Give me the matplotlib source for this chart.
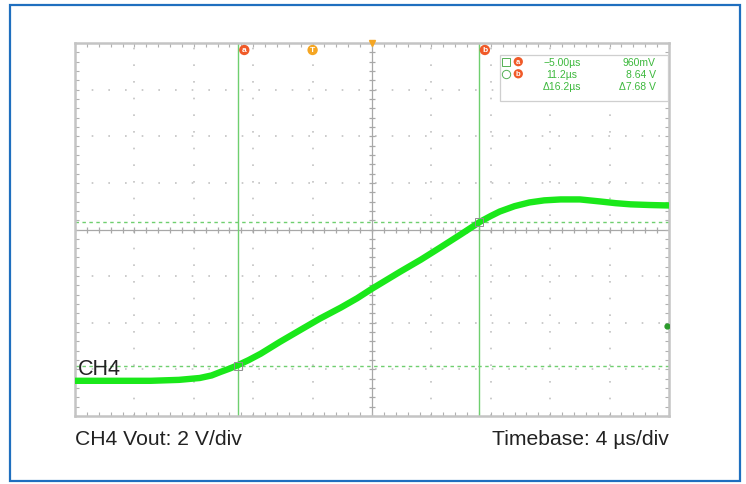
import numpy as np
import matplotlib.pyplot as plt
from matplotlib.patches import Rectangle

plt.rcParams['font.family'] = ['Liberation Sans', 'DejaVu Sans']

# --- dados lidos da tela do osciloscopio ---
# tempo em us, tensao em V (2 V/div, 4 us/div)
t_us = [-16.0, -13.0, -10.9, -9.0, -7.6, -6.8, -6.2, -5.6, -5.0, -4.3, -3.5,
        -2.2, -0.8, 0.5, 1.9, 3.0, 4.0, 5.9, 7.3, 8.6, 10.0, 11.3, 12.0,
        12.6, 13.6, 14.6, 15.6, 16.7, 18.0, 19.4, 20.4, 21.4, 22.7, 24.0]
v_out = [-0.49, -0.49, -0.49, -0.45, -0.37, -0.26, -0.11, 0.03, 0.19, 0.40,
         0.67, 1.18, 1.70, 2.18, 2.65, 3.05, 3.46, 4.19, 4.71, 5.23, 5.80,
         6.34, 6.58, 6.77, 7.00, 7.16, 7.25, 7.29, 7.29, 7.20, 7.13, 7.08,
         7.05, 7.03]

cursor_t = [-5.0, 11.2]          # cursores a e b
cursor_v = [0.15, 6.34]          # niveis mostrados na tela
cursor_names = ['a', 'b']
readout = [['\u22125.00\u00b5s', '960mV'],
           ['11.2\u00b5s', '8.64 V'],
           ['\u039416.2\u00b5s', '\u03947.68 V']]

t_div, v_div = 4, 2
t_min, t_max = -16, 24
v_min, v_max = -2, 14
t_center, v_center = 4, 6
trig_level = 1.87

verde = '#1ae81a'
cinza = '#c2c2c2'

fig = plt.figure(figsize=(7.46, 4.85), dpi=100)

# moldura azul
fig.patches.append(Rectangle((10 / 746, 3 / 485), 730 / 746, 476 / 485,
                             transform=fig.transFigure, fill=False,
                             edgecolor='#1f6fbf', linewidth=1.6))

ax = fig.add_axes([75 / 746, 68 / 485, 594 / 746, 373 / 485])
ax.set_xlim(t_min, t_max)
ax.set_ylim(v_min, v_max)

# grade pontilhada
for t in np.arange(t_min + t_div, t_max, t_div):
    if t != t_center:
        ax.axvline(t, color=cinza, lw=1.2, ls=(0, (1, 9)), zorder=1)
for v in np.arange(v_min + v_div, v_max, v_div):
    if v != v_center:
        ax.axhline(v, color=cinza, lw=1.2, ls=(0, (1, 9)), zorder=1)

# eixos centrais com marcas
ax.axvline(t_center, color='#a8a8a8', lw=0.9, zorder=1)
ax.axhline(v_center, color='#a8a8a8', lw=0.9, zorder=1)
tt = np.arange(t_min, t_max + 0.01, t_div / 5)
vv = np.arange(v_min, v_max + 0.01, v_div / 5)
ax.plot(tt, np.full_like(tt, v_center), '|', color='#a8a8a8', ms=5, mew=0.9, zorder=1)
ax.plot(np.full_like(vv, t_center), vv, '_', color='#a8a8a8', ms=5, mew=0.9, zorder=1)

# bordas com marcas
for s in ax.spines.values():
    s.set_color('#c4c4c4')
    s.set_linewidth(1.8)
ax.set_xticks(np.arange(t_min, t_max + 0.01, t_div / 5))
ax.set_yticks(np.arange(v_min, v_max + 0.01, v_div / 5))
ax.tick_params(direction='in', length=3, color='#b0b0b0', top=True, right=True,
               labelbottom=False, labelleft=False)

# cursores
for t in cursor_t:
    ax.axvline(t, color='#6fcf6f', lw=1.0, zorder=2)
for v in cursor_v:
    ax.axhline(v, color='#6fcf6f', lw=1.0, ls=(0, (2.5, 2.5)), zorder=2)

# traco
ax.plot(t_us, v_out, color=verde, lw=4.6, solid_capstyle='butt', zorder=3)

# marcas nos cruzamentos
for t, v in zip(cursor_t, cursor_v):
    ax.plot(t, v, 's', ms=6, mfc='none', mec='#909090', mew=0.7, zorder=4)

# rotulo do canal e nivel de disparo
ax.text(-15.8, 0.05, 'CH4', fontsize=15.5, va='center', ha='left', color='#222222')
ax.plot(t_max - 0.15, trig_level, 'o', ms=3.5, color='#2a9a2a', zorder=5)

# marcadores do topo
for t, n in zip(cursor_t, cursor_names):
    ax.text(t + 0.4, 13.7, n, fontsize=6, color='white', ha='center', va='center',
            fontweight='bold',
            bbox=dict(boxstyle='circle,pad=0.2', fc='#f05a28', ec='none'))
ax.text(0, 13.7, 'T', fontsize=6, color='white', ha='center', va='center',
        fontweight='bold', bbox=dict(boxstyle='circle,pad=0.2', fc='#f5a623', ec='none'))
ax.plot(t_center, v_max, marker='v', ms=5, color='#f5a623', clip_on=False, zorder=5)

# caixa de leitura dos cursores
ax.add_patch(Rectangle((12.6, 11.5), 11.3, 2.0, fc='white', ec='#cfcfcf',
                       lw=0.9, zorder=5))
linhas_y = [13.2, 12.68, 12.16]
ax.plot(13.05, linhas_y[0], 's', ms=6, mfc='white', mec='#55b055', mew=0.7, zorder=6)
ax.plot(13.05, linhas_y[1], 'o', ms=6, mfc='white', mec='#55b055', mew=0.7, zorder=6)
for y, n in zip(linhas_y[:2], cursor_names):
    ax.text(13.85, y, n, fontsize=5.5, color='white', ha='center', va='center',
            fontweight='bold', zorder=7,
            bbox=dict(boxstyle='circle,pad=0.15', fc='#f05a28', ec='none'))
for y, (a, b) in zip(linhas_y, readout):
    ax.text(16.8, y, a, fontsize=7.5, color='#3cb83c', ha='center', va='center',
            zorder=7)
    ax.text(23.1, y, b, fontsize=7.5, color='#3cb83c', ha='right', va='center',
            zorder=7)

# legendas de baixo
fig.text(75 / 746, 1 - 440 / 485, 'CH4 Vout: 2 V/div', fontsize=15.2, ha='left',
         va='center', color='#222222')
fig.text(669 / 746, 1 - 440 / 485, 'Timebase: 4 \u00b5s/div', fontsize=15.2, ha='right',
         va='center', color='#222222')

fig.savefig('out.png', dpi=100)
